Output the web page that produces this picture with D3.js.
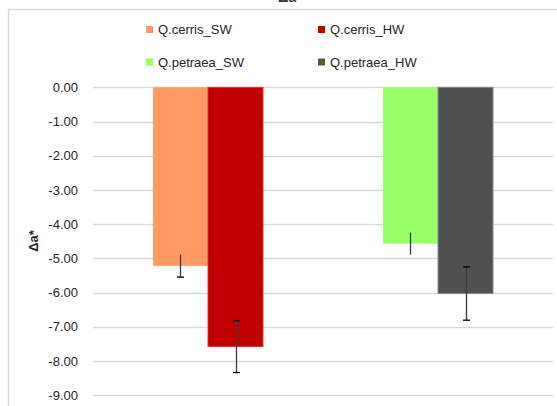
<!DOCTYPE html>
<html>
<head>
<meta charset="utf-8">
<script src="https://cdn.jsdelivr.net/npm/d3@7"></script>
<style>
  html, body { margin: 0; padding: 0; background: #fff; }
  svg { display: block; }
  text { font-family: "Liberation Sans", Arial, sans-serif; }
</style>
</head>
<body>
<svg id="chart" width="557" height="406"></svg>
<script>
// Species groups and wood types
const categories = ["Q.cerris", "Q.petraea"];
const woodTypes = ["SW", "HW"];
// Mean colour change (Δa*) per species, sapwood and heartwood
const swValues = [-5.22, -4.57];
const hwValues = [-7.58, -6.03];
// Error bar half-lengths
const swErrors = [0.33, 0.32];
const hwErrors = [0.76, 0.78];
// Axis ticks
const yTicks = [0, -1, -2, -3, -4, -5, -6, -7, -8, -9];
const chartTitle = "Δa*";
const yTitle = "Δa*";

const seriesColors = {
  "Q.cerris_SW": "#FF9966",
  "Q.cerris_HW": "#C00000",
  "Q.petraea_SW": "#99FF66",
  "Q.petraea_HW": "#505050"
};
const legendColors = {
  "Q.cerris_SW": "#FF9966",
  "Q.cerris_HW": "#C00000",
  "Q.petraea_SW": "#99FF66",
  "Q.petraea_HW": "#4F6228"
};
const barEdge = {
  "Q.cerris_SW": "none",
  "Q.cerris_HW": "#d83a3a",
  "Q.petraea_SW": "none",
  "Q.petraea_HW": "#8a8a8a"
};
// which end caps each error bar shows
const caps = {
  "Q.cerris_SW": { top: false, bottom: true },
  "Q.cerris_HW": { top: true, bottom: true },
  "Q.petraea_SW": { top: false, bottom: false },
  "Q.petraea_HW": { top: true, bottom: true }
};

const rows = [];
categories.forEach((c, i) => {
  rows.push({ cat: c, type: "SW", name: c + "_SW", value: swValues[i], err: swErrors[i] });
  rows.push({ cat: c, type: "HW", name: c + "_HW", value: hwValues[i], err: hwErrors[i] });
});

const svg = d3.select("#chart");

// chart frame
svg.append("path")
  .attr("d", "M8.5,406 L8.5,9.5 L557,9.5")
  .attr("fill", "none")
  .attr("stroke", "#d9d9d9")
  .attr("stroke-width", 1.5);

// title (clipped at the top edge)
svg.append("text")
  .attr("x", 290).attr("y", 2)
  .attr("text-anchor", "middle")
  .attr("font-size", 14).attr("font-weight", "bold")
  .attr("fill", "#333")
  .text(chartTitle);

const plotLeft = 93, plotRight = 553;
const y = d3.scaleLinear().domain([0, -9]).range([87.3, 395.1]);
const x = d3.scaleBand().domain(categories).range([plotLeft, plotRight])
  .paddingInner(0.5217).paddingOuter(0.26085);
const xSub = d3.scaleBand().domain(woodTypes).range([0, x.bandwidth()]).padding(0);

// gridlines
svg.append("g").selectAll("line")
  .data(yTicks)
  .join("line")
  .attr("x1", plotLeft).attr("x2", plotRight)
  .attr("y1", d => Math.round(y(d)) + 0.5).attr("y2", d => Math.round(y(d)) + 0.5)
  .attr("stroke", "#d9d9d9").attr("stroke-width", 1.5);

// y axis labels
const yAxis = d3.axisLeft(y).tickValues(yTicks).tickFormat(d3.format(".2f")).tickSize(0).tickPadding(0);
const gy = svg.append("g").attr("transform", "translate(78,0)").call(yAxis);
gy.select(".domain").remove();
gy.selectAll("text")
  .attr("font-family", "'Liberation Sans', Arial, sans-serif")
  .attr("font-size", 13)
  .attr("fill", "#262626")
  .text(d => d3.format(".2f")(d).replace("−", "-"));

// y axis title
svg.append("text")
  .attr("transform", "translate(38,241) rotate(-90)")
  .attr("text-anchor", "middle")
  .attr("font-size", 13).attr("font-weight", "bold")
  .attr("fill", "#262626")
  .text(yTitle);

// bars
const bars = svg.append("g");
bars.selectAll("rect")
  .data(rows)
  .join("rect")
  .attr("x", d => x(d.cat) + xSub(d.type))
  .attr("y", d => y(0))
  .attr("width", xSub.bandwidth())
  .attr("height", d => y(d.value) - y(0))
  .attr("fill", d => seriesColors[d.name])
  .attr("stroke", d => barEdge[d.name])
  .attr("stroke-width", 1);

// error bars
const eb = svg.append("g");
rows.forEach(d => {
  const cx = Math.round(x(d.cat) + xSub(d.type) + xSub.bandwidth() / 2) + 0.5;
  const yTop = y(d.value + d.err), yBot = y(d.value - d.err);
  eb.append("line")
    .attr("x1", cx).attr("x2", cx).attr("y1", yTop).attr("y2", yBot)
    .attr("stroke", "#3a3a3a").attr("stroke-width", 1.3);
  if (caps[d.name].top) {
    eb.append("line").attr("x1", cx - 3.5).attr("x2", cx + 3.5)
      .attr("y1", yTop).attr("y2", yTop)
      .attr("stroke", "#000").attr("stroke-width", 1.3);
  }
  if (caps[d.name].bottom) {
    eb.append("line").attr("x1", cx - 3.5).attr("x2", cx + 3.5)
      .attr("y1", yBot).attr("y2", yBot)
      .attr("stroke", "#000").attr("stroke-width", 1.3);
  }
});

// legend (2 x 2)
const legendItems = rows.map(d => d.name);
const legendX = [146, 318], legendY = [29.5, 62];
const lg = svg.append("g");
legendItems.forEach((name, i) => {
  const col = i % 2, row = Math.floor(i / 2);
  const g = lg.append("g").attr("transform", `translate(${legendX[col]},${legendY[row]})`);
  g.append("rect").attr("x", 0).attr("y", -3.5).attr("width", 7).attr("height", 7)
    .attr("fill", legendColors[name]);
  g.append("text").attr("x", 12).attr("y", 4.5)
    .attr("font-size", 13).attr("fill", "#262626")
    .text(name);
});
</script>
</body>
</html>
